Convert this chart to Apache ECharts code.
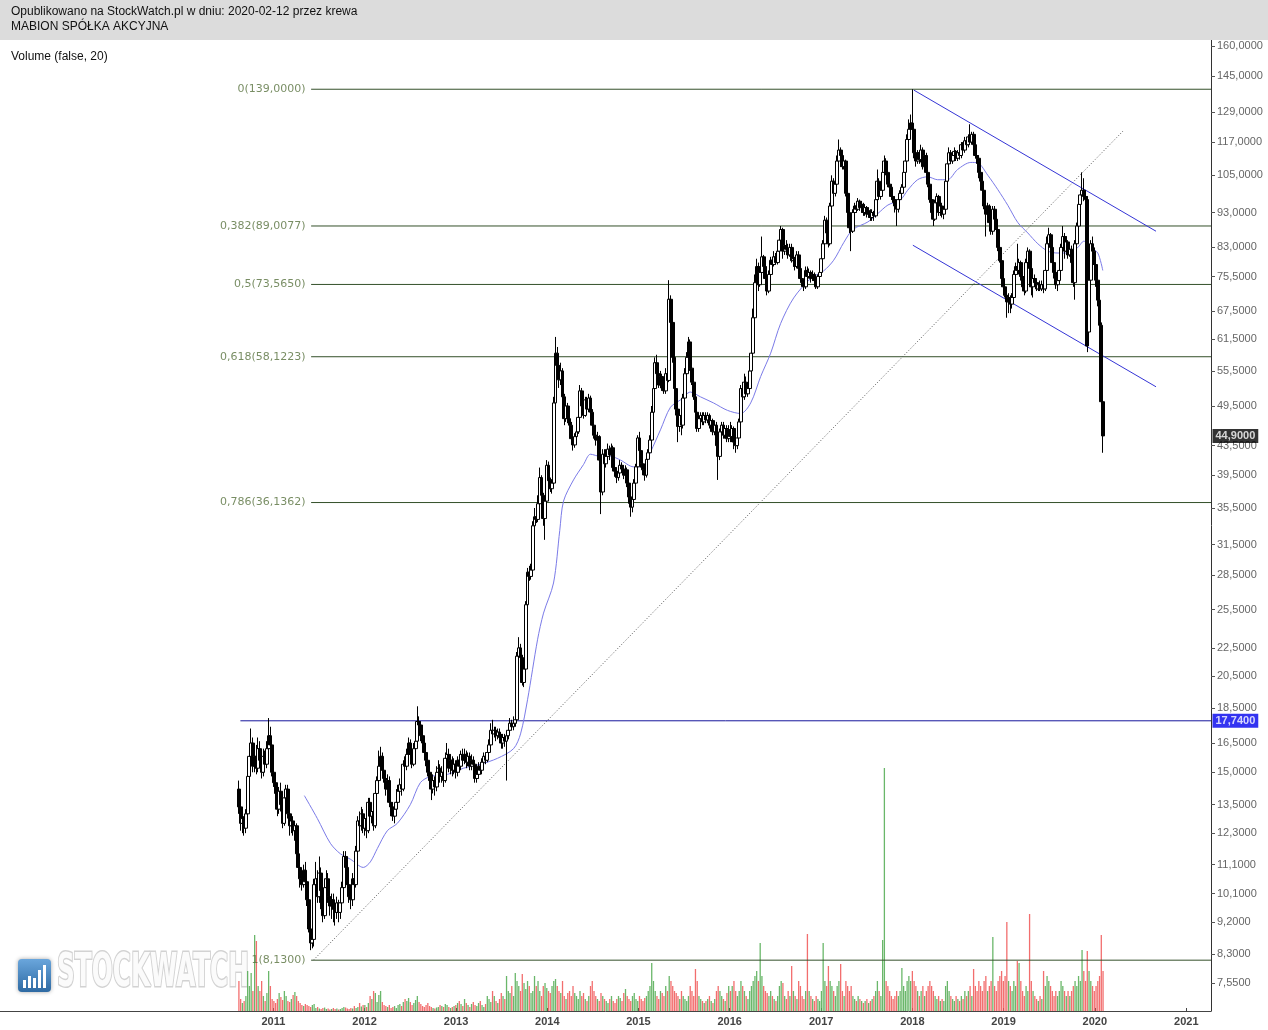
<!DOCTYPE html>
<html>
<head>
<meta charset="utf-8">
<script src="https://cdn.jsdelivr.net/npm/echarts@6/dist/echarts.min.js"></script>
<style>html,body{margin:0;padding:0;background:#fff}#c{width:1268px;height:1030px}</style>
</head>
<body>
<div id="c"></div>
<script>
// weekly candles: [open, close, low, high, volume]
const firstWeek = '2010-08-16';
const w2010 = [[14.2,13.4,13.1,14.6,300],[13.4,12.7,12.4,13.6,120],[12.7,12.9,12.3,13.2,80],[12.9,12.5,12.2,13.0,100],[12.5,13.1,12.3,13.3,150],[13.1,14.8,13.0,15.0,400],[14.8,15.8,14.6,16.2,250],[15.8,16.5,15.5,17.3,380],[16.5,15.3,15.0,16.8,200],[15.3,15.8,15.0,16.3,760],[15.8,15.2,14.9,16.4,700],[15.2,16.2,15.0,16.8,250],[16.2,15.6,15.2,16.6,200],[15.6,15.0,14.7,16.0,300],[15.0,15.8,14.8,16.2,150],[15.8,15.4,15.0,16.1,100],[15.4,16.2,15.2,16.6,180],[16.2,16.9,16.0,17.9,400],[16.9,16.4,16.0,17.4,250],[16.4,15.0,14.8,16.6,120]];
const w2011 = [[15.0,14.5,14.3,15.3,100],[14.5,14.0,13.7,14.7,80],[14.0,13.3,13.0,14.2,120],[13.3,14.1,13.1,14.3,180],[14.1,13.5,13.2,14.5,140],[13.5,12.7,12.5,13.8,110],[12.7,13.8,12.6,14.0,200],[13.8,14.2,13.5,14.4,150],[14.2,13.1,12.9,14.4,100],[13.1,12.6,12.2,13.3,90],[12.6,12.8,12.3,13.0,120],[12.8,12.4,12.2,13.0,160],[12.4,12.6,12.0,12.8,190],[12.6,11.5,11.3,12.7,150],[11.5,11.0,10.8,11.7,100],[11.0,10.6,10.3,11.2,80],[10.6,10.4,10.2,10.8,60],[10.4,10.9,10.3,11.1,50],[10.9,10.5,10.3,11.2,70],[10.5,9.9,9.7,10.7,60],[9.9,9.0,8.9,10.0,50],[9.0,8.6,8.4,9.1,40],[8.6,8.7,8.45,8.9,60],[8.7,10.4,8.5,10.6,70],[10.4,10.6,10.2,11.2,30],[10.6,10.0,9.8,10.9,40],[10.0,10.8,9.8,11.4,25],[10.8,10.2,9.6,11.0,20],[10.2,9.4,9.2,10.4,30],[9.4,10.3,9.3,10.6,35],[10.3,10.6,10.0,10.9,20],[10.6,10.0,9.8,10.8,25],[10.0,9.7,9.4,10.2,15],[9.7,9.9,9.3,10.1,20],[9.9,9.6,9.2,10.1,30],[9.6,9.5,9.1,9.8,20],[9.5,9.8,9.3,10.0,25],[9.8,9.5,9.2,9.9,15],[9.5,9.8,9.3,10.0,20],[9.8,10.3,9.7,10.5,30],[10.3,11.4,10.2,11.6,40],[11.4,11.0,10.8,11.6,35],[11.0,10.4,10.2,11.1,25],[10.4,10.0,9.8,10.6,20],[10.0,9.9,9.6,10.2,30],[9.9,10.6,9.7,10.8,25],[10.6,10.4,10.2,10.8,50],[10.4,11.6,10.3,11.8,30],[11.6,12.8,11.5,13.0,40],[12.8,12.6,12.3,13.2,80],[12.6,13.1,12.4,13.4,45],[13.1,12.5,12.3,13.3,60]];
const w2012 = [[12.5,12.9,12.2,13.1,60],[12.9,12.4,12.1,13.1,40],[12.4,13.6,12.3,13.8,80],[13.6,13.0,12.8,13.8,150],[13.0,13.2,12.7,13.5,120],[13.2,12.6,12.4,13.4,200],[12.6,14.0,12.5,14.2,180],[14.0,14.6,13.8,14.8,90],[14.6,15.3,14.4,16.1,160],[15.3,15.8,15.0,16.3,200],[15.8,15.1,14.9,16.0,90],[15.1,14.7,14.5,15.3,60],[14.7,14.2,13.9,14.9,50],[14.2,14.6,14.0,14.9,40],[14.6,13.6,13.4,14.8,60],[13.6,13.4,13.0,13.8,30],[13.4,13.0,12.8,13.6,40],[13.0,13.3,12.7,13.5,50],[13.3,13.6,13.1,14.2,30],[13.6,14.1,13.4,14.4,60],[14.1,14.4,13.9,14.7,70],[14.4,14.2,13.9,14.6,50],[14.2,15.4,14.1,15.6,90],[15.4,15.3,15.0,15.8,120],[15.3,15.9,15.1,16.2,100],[15.9,16.5,15.7,16.8,130],[16.5,15.9,15.5,16.7,90],[15.9,15.4,15.2,16.1,60],[15.4,16.2,15.3,16.5,80],[16.2,16.6,16.0,16.9,110],[16.6,17.7,16.5,18.6,150],[17.7,17.5,17.2,18.0,90],[17.5,16.9,16.6,17.7,70],[16.9,16.5,16.2,17.1,50],[16.5,16.0,15.7,16.7,40],[16.0,15.6,15.3,16.2,60],[15.6,15.0,14.8,15.8,80],[15.0,14.6,14.3,15.2,50],[14.6,14.2,13.7,14.8,40],[14.2,14.6,14.0,14.9,30],[14.6,14.3,13.9,14.8,25],[14.3,15.0,14.1,15.3,35],[15.0,15.2,14.7,15.6,40],[15.2,14.8,14.5,15.4,60],[14.8,15.0,14.5,15.3,50],[15.0,14.6,14.3,15.2,40],[14.6,15.7,14.5,16.0,70],[15.7,15.9,15.5,16.5,60],[15.9,15.2,15.0,16.2,40],[15.2,15.6,14.9,15.9,30],[15.6,15.1,14.8,15.8,40],[15.1,15.4,14.9,15.7,50]];
const w2013 = [[15.4,15.0,14.7,15.6,60],[15.0,15.6,14.8,15.8,80],[15.6,15.3,15.0,15.9,100],[15.3,15.9,15.1,16.1,70],[15.9,15.6,15.4,16.2,50],[15.6,15.9,15.4,16.2,120],[15.9,15.5,15.2,16.1,80],[15.5,15.8,15.3,16.0,60],[15.8,15.3,15.1,16.0,40],[15.3,15.6,15.1,15.9,70],[15.6,15.4,15.1,15.8,90],[15.4,14.7,14.5,15.6,60],[14.7,14.9,14.5,15.1,50],[14.9,15.3,14.7,15.5,80],[15.3,15.1,14.9,15.5,100],[15.1,15.5,14.9,15.7,60],[15.5,15.8,15.3,16.0,40],[15.8,15.6,15.4,16.0,70],[15.6,16.0,15.5,16.3,150],[16.0,16.4,15.8,16.7,120],[16.4,17.2,16.3,17.6,90],[17.2,17.0,16.7,17.8,200],[17.0,17.2,16.8,17.4,150],[17.2,16.9,16.6,17.4,100],[16.9,17.1,16.7,17.3,80],[17.1,16.8,16.5,17.3,120],[16.8,16.5,16.2,17.0,180],[16.5,16.8,16.2,17.0,150],[16.8,16.6,16.3,17.0,120],[16.6,16.9,14.6,17.1,350],[16.9,17.2,16.7,17.4,200],[17.2,17.6,17.0,17.9,180],[17.6,17.4,17.2,17.8,250],[17.4,17.6,17.2,18.0,150],[17.6,17.8,17.4,18.2,380],[17.8,21.9,17.6,22.2,300],[21.9,22.5,21.5,23.3,250],[22.5,21.8,21.4,22.8,200],[21.8,20.1,19.9,22.0,370],[20.1,21.0,19.8,21.4,280],[21.0,25.9,20.8,26.2,220],[25.9,28.8,25.5,29.2,300],[28.8,28.4,28.0,29.4,250],[28.4,29.0,28.1,29.6,180],[29.0,33.5,28.8,34.0,200],[33.5,34.5,33.0,35.5,350],[34.5,34.2,33.8,35.0,250],[34.2,36.0,33.9,37.0,300],[36.0,39.2,35.8,40.5,200],[39.2,37.0,36.5,39.5,150],[37.0,34.3,33.5,37.3,250],[34.3,36.3,32.0,36.8,280],[36.3,40.8,36.0,41.5,230]];
const w2014 = [[40.8,38.8,38.5,41.3,200],[38.8,37.8,37.4,39.2,180],[37.8,38.5,37.2,39.0,250],[38.5,50.0,38.2,51.0,300],[50.0,58.8,49.5,62.0,320],[58.8,56.5,55.0,60.0,250],[56.5,53.9,52.5,57.5,200],[53.9,55.5,53.0,57.0,180],[55.5,51.0,50.5,56.0,300],[51.0,47.5,46.5,51.5,150],[47.5,49.5,47.0,50.5,120],[49.5,47.5,46.8,50.0,180],[47.5,46.5,45.5,48.0,200],[46.5,44.5,44.0,47.0,150],[44.5,43.6,42.8,45.0,250],[43.6,44.8,43.2,45.3,180],[44.8,45.5,44.2,46.0,150],[45.5,47.7,45.2,48.5,120],[47.7,52.0,47.3,53.0,200],[52.0,49.5,49.0,52.5,150],[49.5,48.0,47.5,50.0,180],[48.0,50.5,47.8,51.0,120],[50.5,49.0,48.5,51.0,100],[49.0,50.8,48.5,51.5,150],[50.8,48.5,48.0,51.2,250],[48.5,46.5,46.0,49.0,300],[46.5,45.0,44.5,47.0,200],[45.0,44.3,43.5,45.5,150],[44.3,44.8,43.8,45.5,120],[44.8,41.5,40.0,45.0,100],[41.5,37.4,34.8,42.0,180],[37.4,42.3,37.0,43.0,150],[42.3,41.0,40.5,43.0,120],[41.0,42.0,40.5,43.0,100],[42.0,43.0,41.5,43.8,80],[43.0,42.2,41.5,43.5,120],[42.2,43.2,41.8,43.8,150],[43.2,40.5,40.0,43.5,100],[40.5,40.0,39.3,41.0,80],[40.0,39.2,38.5,40.5,120],[39.2,39.8,38.8,40.5,150],[39.8,40.8,39.5,41.5,130],[40.8,40.3,39.8,41.2,100],[40.3,39.5,39.0,40.8,180],[39.5,40.2,39.0,40.8,220],[40.2,38.5,38.0,40.5,150],[38.5,36.8,36.0,38.8,120],[36.8,35.6,34.5,37.0,100],[35.6,36.5,35.0,37.0,150],[36.5,38.5,36.2,39.0,180],[38.5,40.6,38.2,41.0,120],[40.6,44.6,40.3,45.0,100]];
const w2015 = [[44.6,42.8,42.0,45.5,150],[42.8,41.0,40.5,43.2,120],[41.0,40.2,39.5,41.5,100],[40.2,39.5,38.8,40.8,130],[39.5,41.6,39.2,42.0,150],[41.6,42.5,41.0,43.0,200],[42.5,44.3,42.0,45.0,250],[44.3,48.5,44.0,49.5,480],[48.5,52.4,48.0,53.5,300],[52.4,57.0,52.0,58.0,200],[57.0,55.0,54.5,58.5,150],[55.0,53.0,52.5,56.0,120],[53.0,54.5,52.5,55.5,200],[54.5,52.5,52.0,55.0,180],[52.5,52.0,51.5,53.5,150],[52.0,55.0,51.5,56.0,250],[55.0,53.8,53.0,56.5,200],[53.8,70.1,53.5,74.6,350],[70.1,65.0,64.0,71.0,300],[65.0,58.0,57.0,66.0,250],[58.0,52.4,51.5,59.0,200],[52.4,49.0,48.0,53.0,180],[49.0,46.3,44.0,49.5,150],[46.3,48.0,45.5,49.0,120],[48.0,46.5,45.0,48.5,200],[46.5,50.8,46.0,51.5,150],[50.8,55.0,50.5,56.0,120],[55.0,58.0,54.5,59.0,100],[58.0,61.0,57.5,62.0,150],[61.0,56.0,55.5,61.5,250],[56.0,53.5,53.0,56.5,200],[53.5,51.0,50.5,54.0,150],[51.0,48.5,48.0,51.5,420],[48.5,46.0,45.5,49.0,300],[46.0,47.5,45.5,48.0,150],[47.5,48.0,46.5,48.5,120],[48.0,47.0,46.5,48.5,100],[47.0,48.0,46.5,48.5,80],[48.0,47.3,46.8,48.5,100],[47.3,48.0,46.8,48.5,120],[48.0,46.5,46.0,48.3,150],[46.5,47.2,45.5,47.8,100],[47.2,45.5,45.0,47.5,80],[45.5,46.5,45.0,47.0,120],[46.5,43.5,42.5,47.0,200],[43.5,42.0,38.9,44.0,250],[42.0,45.5,41.5,46.0,200],[45.5,46.5,45.0,47.0,150],[46.5,45.0,44.5,47.0,120],[45.0,46.0,44.5,46.5,100],[46.0,44.5,44.0,46.5,180],[44.5,45.8,44.0,46.5,250]];
const w2016 = [[45.8,44.8,44.0,47.0,200],[44.8,46.0,44.0,46.5,250],[46.0,44.0,43.0,46.3,300],[44.0,43.5,42.5,44.5,200],[43.5,44.6,43.0,45.0,150],[44.6,47.0,44.0,47.5,200],[47.0,52.4,46.5,53.0,300],[52.4,51.0,50.0,53.5,250],[51.0,53.5,50.5,55.0,200],[53.5,51.5,51.0,54.5,150],[51.5,52.4,51.0,53.5,120],[52.4,55.5,52.0,56.5,200],[55.5,58.8,55.0,60.0,250],[58.8,66.0,58.5,68.0,300],[66.0,74.0,65.5,76.0,350],[74.0,78.0,73.0,80.0,400],[78.0,73.5,72.0,79.0,300],[73.5,76.5,73.0,78.0,680],[76.5,80.5,76.0,86.0,350],[80.5,78.0,76.0,81.0,250],[78.0,75.0,74.0,79.0,200],[75.0,72.0,71.0,75.5,180],[72.0,76.0,71.5,77.0,150],[76.0,79.6,75.5,80.5,200],[79.6,78.5,77.5,80.5,150],[78.5,80.5,78.0,82.0,120],[80.5,79.0,78.5,81.5,100],[79.0,82.0,78.5,83.0,150],[82.0,85.0,81.5,88.0,250],[85.0,88.0,84.0,89.0,300],[88.0,82.0,80.0,88.5,280],[82.0,83.5,81.0,85.0,150],[83.5,82.5,81.5,85.0,120],[82.5,81.0,80.0,84.0,200],[81.0,83.0,80.5,84.0,150],[83.0,79.5,79.0,84.0,450],[79.5,80.0,78.0,81.0,200],[80.0,78.0,77.0,80.5,150],[78.0,81.0,77.5,82.0,120],[81.0,77.5,75.5,82.0,300],[77.5,75.0,74.5,78.0,250],[75.0,74.0,73.0,75.5,150],[74.0,73.0,72.0,74.5,120],[73.0,77.0,72.5,78.0,200],[77.0,75.5,75.0,78.0,770],[75.5,76.5,75.0,77.5,200],[76.5,75.0,74.0,77.0,150],[75.0,76.0,74.5,77.0,120],[76.0,74.5,73.5,76.5,100],[74.5,73.0,72.5,75.0,150],[73.0,75.5,72.5,76.0,120],[75.5,76.5,75.0,77.5,100]];
const w2017 = [[76.5,80.0,76.0,81.0,200],[80.0,84.0,79.5,85.0,680],[84.0,90.7,83.5,92.0,300],[90.7,87.0,86.0,91.5,250],[87.0,84.0,83.0,88.0,450],[84.0,95.0,83.5,96.0,300],[95.0,103.0,94.0,105.0,250],[103.0,99.0,97.0,104.0,200],[99.0,102.0,98.0,103.0,150],[102.0,110.0,101.0,112.0,250],[110.0,114.0,109.0,118.0,300],[114.0,112.0,108.0,115.0,470],[112.0,108.0,107.0,113.0,200],[108.0,110.0,107.0,111.0,150],[110.0,99.0,98.0,110.5,300],[99.0,93.0,92.0,99.5,250],[93.0,88.5,87.0,93.5,200],[88.5,87.5,82.0,89.0,250],[87.5,93.0,87.0,94.0,150],[93.0,95.0,92.0,96.0,120],[95.0,94.0,93.0,96.5,100],[94.0,96.5,93.5,97.5,150],[96.5,94.5,93.5,97.0,120],[94.5,95.5,93.0,96.5,100],[95.5,93.0,92.0,96.0,80],[93.0,94.5,92.0,95.5,100],[94.5,92.5,91.5,95.0,120],[92.5,93.5,91.5,94.5,80],[93.5,91.5,90.5,94.0,100],[91.5,93.0,90.5,94.0,120],[93.0,92.0,90.5,93.5,150],[92.0,97.0,91.5,98.0,200],[97.0,103.0,96.0,107.0,300],[103.0,98.0,97.0,104.0,200],[98.0,100.0,97.0,101.0,150],[100.0,106.0,99.0,108.0,710],[106.0,110.0,105.0,112.0,2430],[110.0,106.0,105.0,111.0,300],[106.0,102.0,101.0,107.0,250],[102.0,101.0,99.0,103.0,200],[101.0,98.0,97.0,102.0,150],[98.0,97.0,96.0,99.5,120],[97.0,95.0,93.0,98.0,150],[95.0,94.0,89.0,96.0,200],[94.0,97.0,93.0,98.0,150],[97.0,99.0,96.0,100.0,200],[99.0,101.0,98.0,102.0,430],[101.0,106.0,100.0,107.0,250],[106.0,110.0,105.0,111.0,200],[110.0,118.0,109.0,120.0,300],[118.0,122.0,117.0,126.0,350],[122.0,124.5,120.0,128.0,300]];
const w2018 = [[124.5,122.0,118.0,139.0,400],[122.0,113.0,111.0,123.0,300],[113.0,110.0,108.0,114.0,250],[110.0,113.0,109.0,114.0,200],[113.0,110.5,109.0,114.0,150],[110.5,114.0,109.5,116.0,200],[114.0,108.0,107.0,115.0,250],[108.0,112.0,107.0,113.0,150],[112.0,106.0,105.0,113.0,200],[106.0,102.0,101.0,107.0,250],[102.0,97.0,96.0,103.0,300],[97.0,93.0,92.0,98.0,250],[93.0,91.0,89.0,94.0,200],[91.0,96.0,90.5,97.0,150],[96.0,98.0,94.0,99.0,120],[98.0,93.0,92.0,98.5,150],[93.0,95.0,92.0,96.0,100],[95.0,92.5,91.5,96.0,120],[92.5,94.0,91.0,95.0,100],[94.0,103.0,93.0,104.0,250],[103.0,109.0,102.0,110.0,300],[109.0,113.0,108.0,115.0,200],[113.0,110.0,109.0,114.0,150],[110.0,112.0,109.0,113.0,120],[112.0,113.5,110.0,115.0,100],[113.5,111.0,110.0,114.0,150],[111.0,113.0,110.0,114.0,120],[113.0,112.0,110.5,114.5,100],[112.0,116.0,111.0,117.0,150],[116.0,114.0,113.0,117.0,120],[114.0,117.5,113.0,119.0,200],[117.5,116.0,114.0,118.5,150],[116.0,119.0,115.0,120.0,200],[119.0,117.0,116.0,124.0,250],[117.0,120.0,116.0,121.0,150],[120.0,116.0,115.0,121.0,420],[116.0,112.0,111.0,117.0,250],[112.0,111.0,109.0,113.0,200],[111.0,106.0,104.0,112.0,300],[106.0,103.0,102.0,107.0,250],[103.0,100.0,98.0,104.0,200],[100.0,95.0,94.0,100.5,300],[95.0,92.5,86.0,96.0,350],[92.5,95.0,91.5,96.0,200],[95.0,90.0,89.0,95.5,250],[90.0,87.5,86.5,91.0,300],[87.5,94.0,86.5,95.0,740],[94.0,91.0,90.0,95.0,250],[91.0,88.0,87.0,92.0,200],[88.0,83.0,82.0,88.5,300],[83.0,79.5,79.0,84.0,350],[79.5,75.0,74.5,80.0,400]];
const w2019 = [[75.0,73.0,72.0,76.0,300],[73.0,71.0,70.5,74.0,350],[71.0,69.5,66.0,72.0,890],[69.5,70.5,67.0,71.5,300],[70.5,69.0,67.0,71.0,250],[69.0,70.5,68.0,71.5,200],[70.5,76.0,70.0,77.0,300],[76.0,78.0,75.0,79.0,250],[78.0,77.0,76.0,84.0,500],[77.0,79.0,76.0,80.0,480],[79.0,75.5,74.5,79.5,300],[75.5,73.0,72.5,76.0,200],[73.0,72.0,71.0,73.5,150],[72.0,79.0,71.5,80.0,250],[79.0,82.0,78.0,83.0,200],[82.0,77.5,76.0,82.5,970],[77.5,73.0,71.0,78.0,300],[73.0,75.0,70.5,76.0,200],[75.0,74.0,73.0,76.0,150],[74.0,72.5,72.0,75.0,120],[72.5,73.5,72.0,74.0,100],[73.5,72.5,72.0,74.5,150],[72.5,73.5,72.0,74.5,120],[73.5,72.5,71.5,74.0,400],[72.5,77.0,72.0,78.0,250],[77.0,84.0,76.0,86.0,350],[84.0,86.5,83.0,88.5,300],[86.5,83.0,82.0,87.0,250],[83.0,79.0,78.0,84.0,200],[79.0,76.5,75.0,79.5,150],[76.5,73.5,72.5,77.0,200],[73.5,74.5,72.0,75.5,150],[74.5,77.0,74.0,78.0,200],[77.0,83.0,76.5,84.0,300],[83.0,86.0,82.0,89.0,250],[86.0,82.0,80.0,87.0,200],[82.0,84.5,81.0,86.0,150],[84.5,81.0,80.0,85.0,200],[81.0,82.5,80.5,83.5,150],[82.5,79.0,78.0,83.5,200],[79.0,74.0,73.0,79.5,250],[74.0,84.0,70.0,85.0,300],[84.0,89.0,83.0,90.0,250],[89.0,95.5,88.0,96.5,350],[95.5,98.5,94.0,100.0,300],[98.5,100.0,97.0,106.0,610],[100.0,98.0,96.5,104.0,400],[98.0,97.0,95.5,100.0,300],[97.0,60.2,59.0,98.0,600],[63.0,74.6,62.0,75.5,400],[74.6,84.0,73.5,85.0,300],[84.0,82.0,80.5,86.0,250],[82.0,78.5,77.0,83.0,200]];
const w2020 = [[78.5,74.6,73.0,79.0,250],[74.6,69.9,68.5,75.0,300],[69.9,64.4,62.0,70.5,350],[64.4,50.2,49.5,65.0,760],[50.2,44.9,42.5,51.0,400]];

// moving average line
const maPoints = [['2011-05-05',13.9],['2011-06-26',12.9],['2011-08-17',11.9],['2011-09-26',11.5],['2011-11-05',11.3],['2011-12-27',11.0],['2012-01-24',11.2],['2012-02-21',11.7],['2012-04-01',12.4],['2012-05-11',12.7],['2012-07-02',13.5],['2012-08-11',14.5],['2012-09-21',14.8],['2012-11-28',14.9],['2013-01-31',15.2],['2013-04-09',15.4],['2013-06-16',15.7],['2013-08-19',16.2],['2013-09-16',17.0],['2013-10-14',19.0],['2013-11-23',23.1],['2013-12-17',25.2],['2014-01-26',27.8],['2014-02-20',33.0],['2014-03-07',36.3],['2014-04-16',38.9],['2014-05-26',40.9],['2014-06-23',42.3],['2014-08-02',42.0],['2014-09-11',42.0],['2014-10-21',41.5],['2014-12-12',40.6],['2015-01-17',40.6],['2015-02-18',42.6],['2015-03-30',45.8],['2015-05-09',49.3],['2015-06-18',50.5],['2015-07-28',51.8],['2015-09-06',51.0],['2015-10-28',50.0],['2015-12-23',48.8],['2016-02-14',48.3],['2016-03-25',50.0],['2016-05-04',54.5],['2016-06-13',58.8],['2016-07-23',64.8],['2016-09-13',70.4],['2016-11-20',75.0],['2017-01-11',76.9],['2017-02-20',79.6],['2017-04-02',84.4],['2017-05-08',88.0],['2017-07-07',90.2],['2017-08-16',92.7],['2017-09-25',95.3],['2017-11-15',97.0],['2017-12-13',100.0],['2018-01-22',103.5],['2018-03-03',104.5],['2018-04-12',103.5],['2018-05-22',103.5],['2018-07-01',107.0],['2018-08-23',109.5],['2018-09-20',109.3],['2018-10-30',105.0],['2018-12-09',100.2],['2019-01-18',95.2],['2019-02-27',90.0],['2019-04-08',87.0],['2019-05-18',84.0],['2019-06-27',82.0],['2019-08-06',81.5],['2019-09-15',81.5],['2019-10-25',83.0],['2019-11-18',84.7],['2019-12-16',83.0],['2020-01-13',81.5],['2020-02-02',77.0]];

const yTicks = [7.55,8.3,9.2,10.1,11.1,12.3,13.5,15,16.5,18.5,20.5,22.5,25.5,28.5,31.5,35.5,39.5,43.5,49.5,55.5,61.5,67.5,75.5,83,93,105,117,129,145,160];
const yearTicks = [2011,2012,2013,2014,2015,2016,2017,2018,2019,2020,2021];
const fibLevels = [139, 89.0077, 73.565, 58.1223, 36.1362, 8.13];
const fibLabels = ['0(139,0000)','0,382(89,0077)','0,5(73,5650)','0,618(58,1223)','0,786(36,1362)','1(8,1300)'];
const fibStart = '2011-06-01';
const resistanceLevel = 17.74;
const resistanceStart = '2010-08-22';
const lastPrice = 44.9;
const trendDotted = [['2011-06-10',8.13],['2020-04-23',121.3]];
const channelUpper = [['2018-01-07',138.6],['2020-09-02',87.5]];
const channelLower = [['2018-01-03',83.6],['2020-09-02',52.7]];

const ts = s => Date.parse(s + 'T00:00:00Z');
const DAY = 86400000;
const xMin = Date.UTC(2008,0,3), xMax = Date.UTC(2021,3,10);
const rows = [].concat(w2010,w2011,w2012,w2013,w2014,w2015,w2016,w2017,w2018,w2019,w2020);
const t0 = ts(firstWeek);
const candleData = rows.map((r,i)=>[t0 + i*7*DAY, r[0], r[1], r[2], r[3]]);
const GREEN = 'rgba(80,170,80,0.85)', RED = 'rgba(240,85,85,0.85)';
const volData = rows.map((r,i)=>({value:[t0 + i*7*DAY, r[4]], itemStyle:{color: r[1] >= r[0] ? GREEN : RED}}));
const fmt = v => Number(v).toFixed(4).replace('.', ',');
const FONT = '"Liberation Sans", Arial, sans-serif';

// watermark text squeezed to its box width
const WM_FONT = 'bold 46px "DejaVu Sans Condensed", "DejaVu Sans", sans-serif';
const mctx = document.createElement('canvas').getContext('2d');
mctx.font = WM_FONT;
const wmScale = 192 / mctx.measureText('STOCKWATCH').width;

const series = [];
series.push({type:'bar', xAxisIndex:1, yAxisIndex:1, data:volData, barWidth:1.3, z:2, silent:true, encode:{x:0,y:1}});
fibLevels.forEach(l => series.push({type:'line', data:[[ts(fibStart), l],[xMax, l]], symbol:'none', lineStyle:{color:'#34502a', width:1}, z:3, silent:true}));
series.push({type:'line', data:[[ts(resistanceStart), resistanceLevel],[xMax, resistanceLevel]], symbol:'none', lineStyle:{color:'#16169c', width:1}, z:3, silent:true});
series.push({type:'line', data:trendDotted.map(p=>[ts(p[0]),p[1]]), symbol:'none', lineStyle:{color:'#555555', width:1, type:[1,2]}, z:3, silent:true});
series.push({type:'line', data:channelUpper.map(p=>[ts(p[0]),p[1]]), symbol:'none', lineStyle:{color:'#3535d6', width:1}, z:3, silent:true});
series.push({type:'line', data:channelLower.map(p=>[ts(p[0]),p[1]]), symbol:'none', lineStyle:{color:'#3535d6', width:1}, z:3, silent:true});
series.push({type:'line', data:maPoints.map(p=>[ts(p[0]),p[1]]), symbol:'none', smooth:0.3, lineStyle:{color:'#7b7be8', width:1}, z:4, silent:true});
series.push({type:'candlestick', data:candleData, encode:{x:0,y:[1,2,3,4]}, barWidth:3.4, barMaxWidth:6, z:5, silent:true,
  itemStyle:{color:'#ffffff', color0:'#000000', borderColor:'#000000', borderColor0:'#000000', borderColorDoji:'#000000', borderWidth:1}});
series.push({type:'scatter', clip:false, symbol:'rect', symbolSize:1, itemStyle:{color:'rgba(0,0,0,0)'}, z:6, silent:true,
  data: fibLevels.map((l,k)=>({value:[ts(fibStart), l], name:fibLabels[k]})),
  label:{show:true, position:'left', distance:5, formatter:'{b}', color:'#56703c', fontSize:11, fontFamily:'"DejaVu Sans", Verdana, sans-serif'}});
series.push({type:'scatter', clip:false, symbol:'rect', symbolSize:1, itemStyle:{color:'rgba(0,0,0,0)'}, z:10, silent:true,
  data:[
    {value:[xMax, resistanceLevel], label:{backgroundColor:'#0000ee'}},
    {value:[xMax, lastPrice], label:{backgroundColor:'#000000'}}
  ],
  label:{show:true, position:'right', distance:1, formatter: p => fmt(p.value[1]), color:'#ffffff', fontWeight:'bold', fontSize:11, fontFamily:FONT, padding:[2,3,1,3]}});

const grid = {left:0, right:57, top:40, bottom:19, outerBoundsMode:'none', containLabel:false};
const option = {
  animation:false,
  backgroundColor:'#ffffff',
  grid:[Object.assign({}, grid), Object.assign({}, grid)],
  xAxis:[
    {type:'value', gridIndex:0, min:xMin, max:xMax, splitLine:{show:false},
     axisLine:{show:true, lineStyle:{color:'#444'}},
     axisTick:{show:true, inside:true, length:3, customValues: yearTicks.map(y=>Date.UTC(y,0,1)), lineStyle:{color:'#444'}},
     axisLabel:{customValues: yearTicks.map(y=>Date.UTC(y,0,1)), formatter: v => String(new Date(v).getUTCFullYear()), color:'#444', fontWeight:'bold', fontSize:11, fontFamily:FONT, margin:5}},
    {type:'value', gridIndex:1, min:xMin, max:xMax, show:false}
  ],
  yAxis:[
    {type:'log', logBase:10, gridIndex:0, position:'right', min:6.889, max:163.2, splitLine:{show:false},
     axisLine:{show:true, lineStyle:{color:'#333'}},
     axisTick:{show:true, length:4, customValues:yTicks, lineStyle:{color:'#555'}},
     axisLabel:{customValues:yTicks, formatter: v => fmt(v), color:'#666', fontSize:11, fontFamily:FONT, margin:6}},
    {type:'value', gridIndex:1, min:0, max:9710, show:false}
  ],
  graphic:[
    {type:'rect', shape:{x:0,y:0,width:1268,height:40}, style:{fill:'#dcdcdc'}, z:100, silent:true},
    {type:'text', x:11, y:6, style:{text:'Opublikowano na StockWatch.pl w dniu: 2020-02-12 przez krewa', fill:'#111', font:'12px ' + FONT}, z:101},
    {type:'text', x:11, y:21, style:{text:'MABION SPÓŁKA AKCYJNA', fill:'#111', font:'12px ' + FONT}, z:101},
    {type:'text', x:11, y:51, style:{text:'Volume (false, 20)', fill:'#111', font:'12px ' + FONT}, z:101},
    {type:'rect', shape:{x:18,y:959,width:33,height:33,r:4}, style:{fill:{type:'linear',x:0,y:0,x2:0,y2:1,colorStops:[{offset:0,color:'#6aa6dc'},{offset:1,color:'#2e6aa3'}]}, shadowBlur:4, shadowColor:'rgba(0,0,0,0.35)'}, z:0, silent:true},
    {type:'rect', shape:{x:23,y:980,width:3,height:8}, style:{fill:'#fff'}, z:0, silent:true},
    {type:'rect', shape:{x:28,y:976,width:3,height:12}, style:{fill:'#fff'}, z:0, silent:true},
    {type:'rect', shape:{x:33,y:978,width:3,height:10}, style:{fill:'#fff'}, z:0, silent:true},
    {type:'rect', shape:{x:38,y:970,width:3,height:18}, style:{fill:'#fff'}, z:0, silent:true},
    {type:'rect', shape:{x:43,y:965,width:3,height:23}, style:{fill:'#fff'}, z:0, silent:true},
    {type:'text', x:57, y:951, scaleX:wmScale, style:{text:'STOCKWATCH', fill:'#fbfbfb', stroke:'#d2d2d2', lineWidth:3, strokeFirst:true, font:WM_FONT, shadowBlur:7, shadowColor:'rgba(0,0,0,0.6)', shadowOffsetY:1}, z:0, silent:true}
  ],
  series: series
};
const chart = echarts.init(document.getElementById('c'), null, {renderer:'canvas'});
chart.setOption(option);
</script>
</body>
</html>
